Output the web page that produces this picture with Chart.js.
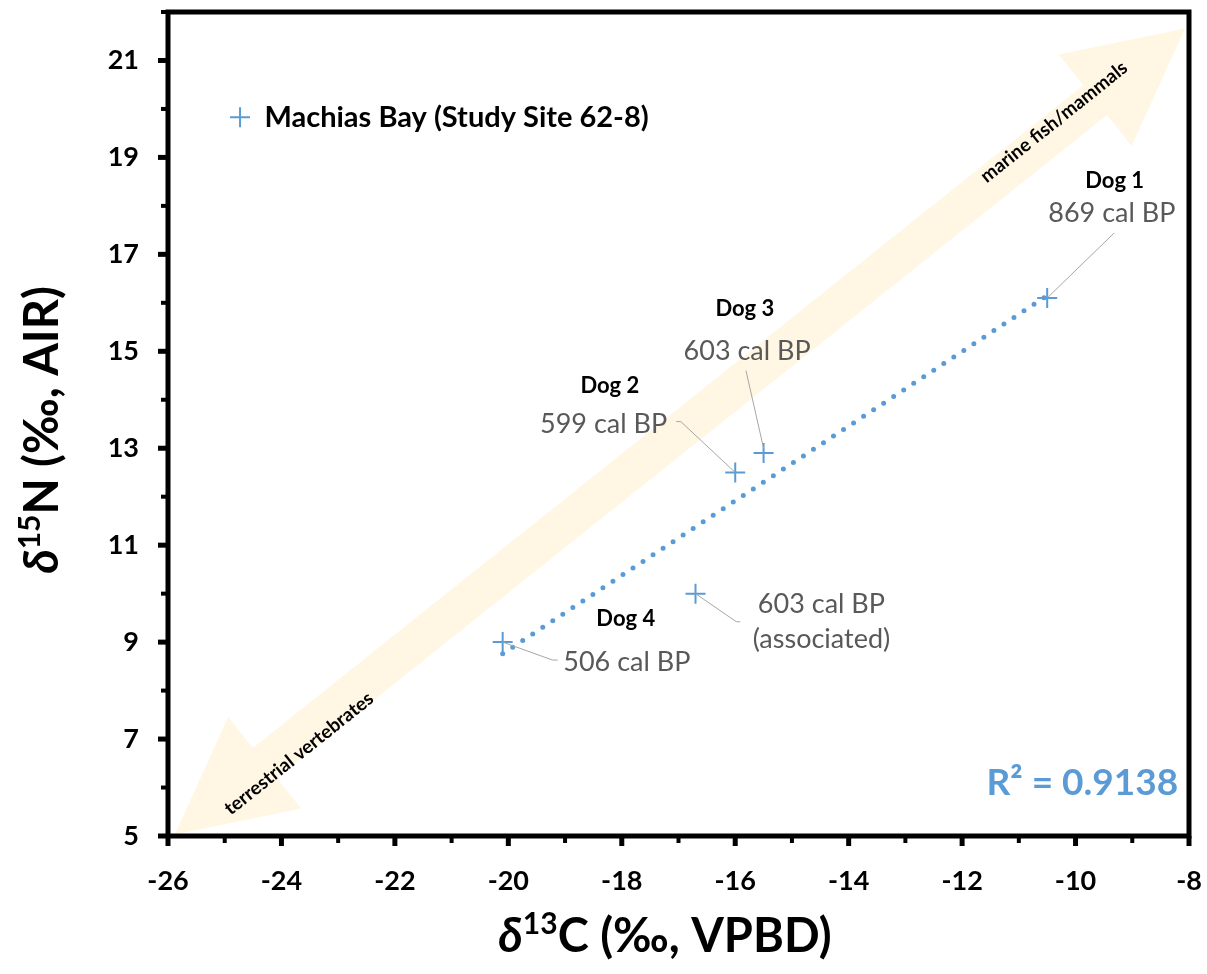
<!DOCTYPE html>
<html>
<head>
<meta charset="utf-8">
<script src="https://cdn.jsdelivr.net/npm/chart.js"></script>
<style>
  body { margin: 0; background: #fff; }
  #wrap { width: 1207px; height: 974px; position: relative; }
</style>
</head>
<body>
<div id="wrap"><canvas id="isoChart"></canvas></div>
<script>
/* Data */

const sampleNames = ["Dog 1", "Dog 3", "Dog 2", "Associated", "Dog 4"];
const carbonValues = [-10.5, -15.5, -16.0, -16.7, -20.1];
const nitrogenValues = [16.1, 12.9, 12.5, 10.0, 9.0];

// trend line ends
const trendCarbon = [-20.1, -10.5];
const trendNitrogen = [8.76, 16.15];
const rSquaredText = "R² = 0.9138";

const xTickValues = [-26, -24, -22, -20, -18, -16, -14, -12, -10, -8];
const yTickValues = [5, 7, 9, 11, 13, 15, 17, 19, 21];

const seriesName = "Machias Bay (Study Site 62-8)";

/* Annotations (data coordinates) */

const dogTitles = [
  { text: "Dog 1", x: -9.31, y: 18.51 },
  { text: "Dog 3", x: -15.83, y: 15.88 },
  { text: "Dog 2", x: -18.21, y: 14.29 },
  { text: "Dog 4", x: -17.93, y: 9.48 }
];

const dateLabels = [
  { text: "869 cal BP", x: -9.36, y: 17.85 },
  { text: "603 cal BP", x: -15.79, y: 15.01 },
  { text: "599 cal BP", x: -18.32, y: 13.49 },
  { text: "603 cal BP", x: -14.48, y: 9.77 },
  { text: "(associated)", x: -14.48, y: 9.05 },
  { text: "506 cal BP", x: -17.91, y: 8.59 }
];

const leaderLines = [
  [[-9.32, 17.44], [-10.5, 16.1]],
  [[-15.81, 14.6], [-15.5, 13.0]],
  [[-17.04, 13.55], [-16.96, 13.55], [-16.0, 12.5]],
  [[-16.7, 10.0], [-15.98, 9.42], [-15.91, 9.42]],
  [[-20.1, 9.0], [-19.22, 8.63], [-19.13, 8.63]]
];

const arrowEnds = [[-25.88, 5.03], [-8.07, 21.66]];
const arrowCaptions = [
  { text: "marine fish/mammals", x: -10.38, y: 19.73 },
  { text: "terrestrial vertebrates", x: -23.69, y: 6.7 }
];

const blue = "#5B9BD5";
const grey = "#595959";
const cream = "#FFF6E4";
const fontName = "Lato, 'Open Sans', sans-serif";

/* Helpers */

function drawRich(ctx, parts, x, y) {
  let total = 0;
  parts.forEach(p => {
    ctx.font = p.font;
    p.w = ctx.measureText(p.t).width;
    total += p.w;
  });
  let cx = x - total / 2;
  parts.forEach(p => {
    ctx.font = p.font;
    ctx.fillText(p.t, cx, y + (p.dy || 0));
    cx += p.w;
  });
}

function noPadding(scale) {
  scale.paddingTop = 0;
  scale.paddingBottom = 0;
  scale.paddingLeft = 0;
  scale.paddingRight = 0;
}

const decorPlugin = {
  id: "decor",
  beforeDatasetsDraw(chart) {
    const { ctx, scales: { x, y } } = chart;
    const a = [x.getPixelForValue(arrowEnds[0][0]), y.getPixelForValue(arrowEnds[0][1])];
    const b = [x.getPixelForValue(arrowEnds[1][0]), y.getPixelForValue(arrowEnds[1][1])];
    const len = Math.hypot(b[0] - a[0], b[1] - a[1]);
    const u = [(b[0] - a[0]) / len, (b[1] - a[1]) / len];
    const n = [-u[1], u[0]];
    const headLen = 115, headW = 117, shaftW = 38;
    const pt = (base, along, side) => [base[0] + u[0] * along + n[0] * side, base[1] + u[1] * along + n[1] * side];
    const poly = [
      a,
      pt(a, headLen, headW / 2),
      pt(a, headLen, shaftW / 2),
      pt(b, -headLen, shaftW / 2),
      pt(b, -headLen, headW / 2),
      b,
      pt(b, -headLen, -headW / 2),
      pt(b, -headLen, -shaftW / 2),
      pt(a, headLen, -shaftW / 2),
      pt(a, headLen, -headW / 2)
    ];
    ctx.save();
    ctx.fillStyle = cream;
    ctx.beginPath();
    poly.forEach((p, i) => i ? ctx.lineTo(p[0], p[1]) : ctx.moveTo(p[0], p[1]));
    ctx.closePath();
    ctx.fill();

    // arrow captions
    const ang = Math.atan2(u[1], u[0]);
    ctx.fillStyle = "#000";
    ctx.font = "bold 19px " + fontName;
    ctx.textAlign = "center";
    ctx.textBaseline = "middle";
    arrowCaptions.forEach(c => {
      ctx.setTransform(1, 0, 0, 1, 0, 0);
      ctx.translate(x.getPixelForValue(c.x), y.getPixelForValue(c.y));
      ctx.rotate(ang);
      ctx.fillText(c.text, 0, 0);
    });
    ctx.restore();
  },
  afterDatasetsDraw(chart) {
    const { ctx, chartArea: ca, scales: { x, y } } = chart;
    const px = v => x.getPixelForValue(v);
    const py = v => y.getPixelForValue(v);
    ctx.save();

    // leader lines
    ctx.strokeStyle = "#A6A6A6";
    ctx.lineWidth = 1;
    leaderLines.forEach(line => {
      ctx.beginPath();
      line.forEach((p, i) => i ? ctx.lineTo(px(p[0]), py(p[1])) : ctx.moveTo(px(p[0]), py(p[1])));
      ctx.stroke();
    });

    // frame
    ctx.strokeStyle = "#000";
    ctx.lineWidth = 5;
    ctx.strokeRect(ca.left, ca.top, ca.right - ca.left, ca.bottom - ca.top);

    // tick marks
    for (let v = -26; v <= -8; v++) {
      const major = v % 2 === 0;
      ctx.lineWidth = major ? 5 : 4;
      ctx.beginPath();
      ctx.moveTo(px(v), ca.bottom);
      ctx.lineTo(px(v), ca.bottom + (major ? 10 : 7));
      ctx.stroke();
    }
    for (let v = 5; v <= 22; v++) {
      const major = v % 2 === 1;
      ctx.lineWidth = major ? 5 : 4;
      ctx.beginPath();
      ctx.moveTo(ca.left, py(v));
      ctx.lineTo(ca.left - (major ? 10 : 7), py(v));
      ctx.stroke();
    }

    // labels
    ctx.textAlign = "center";
    ctx.textBaseline = "middle";
    ctx.fillStyle = "#000";
    ctx.font = "bold 22px " + fontName;
    dogTitles.forEach(d => ctx.fillText(d.text, px(d.x), py(d.y)));
    ctx.fillStyle = grey;
    ctx.font = "27px " + fontName;
    dateLabels.forEach(d => ctx.fillText(d.text, px(d.x), py(d.y)));

    // R squared
    ctx.fillStyle = blue;
    ctx.font = "bold 37px " + fontName;
    ctx.fillText(rSquaredText, px(-9.88), py(6.1));

    // legend
    const lx = px(-24.73), ly = py(19.83);
    ctx.strokeStyle = blue;
    ctx.lineWidth = 2;
    ctx.beginPath();
    ctx.moveTo(lx - 10, ly); ctx.lineTo(lx + 10, ly);
    ctx.moveTo(lx, ly - 10); ctx.lineTo(lx, ly + 10);
    ctx.stroke();
    ctx.fillStyle = "#000";
    ctx.textAlign = "left";
    ctx.font = "bold 29px " + fontName;
    ctx.fillText(seriesName, px(-24.3), ly);

    // axis titles
    ctx.textAlign = "left";
    ctx.textBaseline = "alphabetic";
    const bigFont = "bold 47px " + fontName;
    const supFont = "bold 30px " + fontName;
    drawRich(ctx, [
      { t: "δ", font: "italic " + bigFont },
      { t: "13", font: supFont, dy: -18 },
      { t: "C (‰, VPBD)", font: bigFont }
    ], 665, 952);
    ctx.translate(58, 430);
    ctx.rotate(-Math.PI / 2);
    drawRich(ctx, [
      { t: "δ", font: "italic " + bigFont },
      { t: "15", font: supFont, dy: -18 },
      { t: "N (‰, AIR)", font: bigFont }
    ], 0, 0);
    ctx.restore();
  }
};

/* Chart */

const chartCanvas = document.querySelector("#isoChart");

new Chart(chartCanvas, {
  type: "scatter",
  data: {
    datasets: [
      {
        label: seriesName,
        data: carbonValues.map((c, i) => ({ x: c, y: nitrogenValues[i] })),
        pointStyle: "cross",
        pointRadius: 10,
        pointBorderWidth: 2,
        borderColor: blue,
        backgroundColor: blue
      },
      {
        label: "Linear trend",
        data: trendCarbon.map((c, i) => ({ x: c, y: trendNitrogen[i] })),
        showLine: true,
        pointRadius: 0,
        borderColor: blue,
        borderWidth: 5,
        borderDash: [0, 12],
        borderCapStyle: "round"
      }
    ]
  },
  options: {
    responsive: true,
    maintainAspectRatio: false,
    animation: false,
    layout: {
      padding: { top: 11, right: 18, left: 0, bottom: 0 }
    },
    plugins: {
      legend: { display: false },
      tooltip: { enabled: false }
    },
    scales: {
      x: {
        type: "linear",
        min: -26,
        max: -8,
        afterFit: scale => { scale.height = 138; noPadding(scale); },
        afterBuildTicks: scale => { scale.ticks = xTickValues.map(v => ({ value: v })); },
        grid: { display: false, drawTicks: false },
        border: { display: false },
        ticks: {
          padding: 29,
          color: "#000",
          font: { family: fontName, size: 27, weight: "bold" }
        }
      },
      y: {
        type: "linear",
        min: 5,
        max: 22,
        afterFit: scale => { scale.width = 168; noPadding(scale); },
        afterBuildTicks: scale => { scale.ticks = yTickValues.map(v => ({ value: v })); },
        grid: { display: false, drawTicks: false },
        border: { display: false },
        ticks: {
          padding: 29,
          color: "#000",
          font: { family: fontName, size: 27, weight: "bold" }
        }
      }
    }
  },
  plugins: [decorPlugin]
});
</script>
</body>
</html>
